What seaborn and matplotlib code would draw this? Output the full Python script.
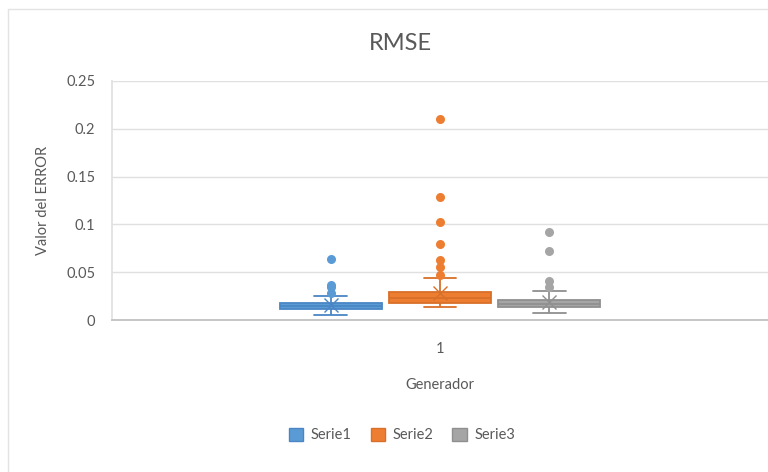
import numpy as np
import pandas as pd
import matplotlib
matplotlib.use("Agg")
import matplotlib.pyplot as plt
from matplotlib.lines import Line2D
import seaborn as sns

# RMSE samples per series, stored as distinct values and how often each occurs
serie1_values = [0.005, 0.008, 0.010, 0.0115, 0.013, 0.0145, 0.016, 0.0178,
                 0.020, 0.023, 0.0254, 0.028, 0.035, 0.037, 0.064]
serie1_counts = [1, 4, 10, 15, 10, 15, 12, 14, 7, 5, 3, 1, 1, 1, 1]

serie2_values = [0.0133, 0.015, 0.0165, 0.018, 0.020, 0.0225, 0.025, 0.029,
                 0.032, 0.036, 0.040, 0.0436, 0.047, 0.055, 0.063, 0.080,
                 0.102, 0.129, 0.210]
serie2_counts = [2, 8, 10, 12, 10, 14, 10, 12, 8, 3, 2, 2, 1, 1, 1, 1, 1, 1, 1]

serie3_values = [0.007, 0.009, 0.011, 0.0133, 0.015, 0.017, 0.019, 0.0209,
                 0.023, 0.026, 0.0303, 0.0348, 0.0408, 0.0722, 0.0924]
serie3_counts = [2, 5, 8, 15, 12, 14, 12, 12, 8, 5, 3, 1, 1, 1, 1]

series_names = ["Serie1", "Serie2", "Serie3"]
generator_labels = ["1"]
y_ticks = [0, 0.05, 0.1, 0.15, 0.2, 0.25]
y_tick_labels = ["0", "0.05", "0.1", "0.15", "0.2", "0.25"]

fill_colors = ["#5b9bd5", "#ed7d31", "#a5a5a5"]
line_colors = ["#4a86c5", "#d9702a", "#8f8f8f"]
text_color = "#595959"
grid_color = "#e0e0e0"

frames = []
for name, vals, cnts in zip(series_names,
                            [serie1_values, serie2_values, serie3_values],
                            [serie1_counts, serie2_counts, serie3_counts]):
    frames.append(pd.DataFrame({
        "Generador": generator_labels[0],
        "Serie": name,
        "RMSE": np.repeat(vals, cnts),
    }))
df = pd.concat(frames, ignore_index=True)

sns.set_theme(style="white")
plt.rcParams["font.family"] = ["Lato", "DejaVu Sans"]

fig = plt.figure(figsize=(7.68, 4.72), dpi=100)
ax = fig.add_axes([112 / 768, 1 - 320 / 472, 1 - 112 / 768, (320 - 81) / 472])

sns.boxplot(
    data=df, x="Generador", y="RMSE", hue="Serie",
    hue_order=series_names, palette=fill_colors, saturation=1,
    width=0.5, gap=0.07, whis=1.5, linewidth=1.3,
    showmeans=True,
    meanprops=dict(marker="x", markersize=10, markeredgewidth=1.0),
    flierprops=dict(marker="o", markersize=6.5, markeredgewidth=0),
    ax=ax, legend=False,
)

# Per-series line colours for boxes, whiskers, caps, medians, means and outliers
for i, patch in enumerate(ax.patches[:3]):
    patch.set_facecolor(fill_colors[i])
    patch.set_edgecolor(line_colors[i])
lines = ax.lines
per_box = len(lines) // 3
for i in range(3):
    for ln in lines[i * per_box:(i + 1) * per_box]:
        ln.set_color(line_colors[i])
        if ln.get_marker() == "o":
            ln.set_markerfacecolor(fill_colors[i])
            ln.set_markeredgecolor(fill_colors[i])
        elif ln.get_marker() == "x":
            ln.set_markeredgecolor(line_colors[i])
        else:
            ln.set_linestyle("-")

# Narrow the whisker caps
box_w = 0.5 / 3 * (1 - 0.07)
for i in range(3):
    for ln in lines[i * per_box:(i + 1) * per_box]:
        xd = np.asarray(ln.get_xdata(), dtype=float)
        yd = np.asarray(ln.get_ydata(), dtype=float)
        if len(xd) == 2 and yd[0] == yd[1] and ln.get_marker() in ("None", "", None):
            width = abs(xd[1] - xd[0])
            if width < box_w * 0.9:
                c = xd.mean()
                half = box_w * 0.16
                ln.set_xdata([c - half, c + half])

ax.set_ylim(0, 0.25)
ax.set_xlim(-0.5, 0.5)
ax.set_yticks(y_ticks)
ax.set_yticklabels(y_tick_labels)
ax.yaxis.grid(True, color=grid_color, linewidth=1)
ax.set_axisbelow(True)
for side in ["top", "right"]:
    ax.spines[side].set_visible(False)
ax.spines["left"].set_color(grid_color)
ax.spines["bottom"].set_color("#bfbfbf")
ax.tick_params(axis="both", length=0, colors=text_color, labelsize=10.5)
ax.tick_params(axis="y", pad=12)
ax.tick_params(axis="x", pad=16)

ax.set_ylabel("Valor del ERROR", color=text_color, fontsize=10.5, labelpad=12)
ax.set_xlabel("Generador", color=text_color, fontsize=10.5, labelpad=16)

fig.text(400 / 768, 1 - 44 / 472, "RMSE", ha="center", va="center",
         fontsize=17, color=text_color)

handles = [plt.Rectangle((0, 0), 1, 1, facecolor=fill_colors[i],
                         edgecolor=line_colors[i]) for i in range(3)]
fig.legend(handles, series_names, loc="center",
           bbox_to_anchor=(402 / 768, 1 - 435 / 472), ncol=3, frameon=False,
           fontsize=10.5, handlelength=1.0, handleheight=1.0,
           handletextpad=0.5, columnspacing=1.3, labelcolor=text_color)

# Chart-area border
fig.add_artist(Line2D([8 / 768, 8 / 768], [0, 1 - 9 / 472],
                      transform=fig.transFigure, color="#e3e3e3", linewidth=1))
fig.add_artist(Line2D([8 / 768, 1], [1 - 9 / 472, 1 - 9 / 472],
                      transform=fig.transFigure, color="#e3e3e3", linewidth=1))

fig.savefig("out.png", dpi=100, facecolor="white")
